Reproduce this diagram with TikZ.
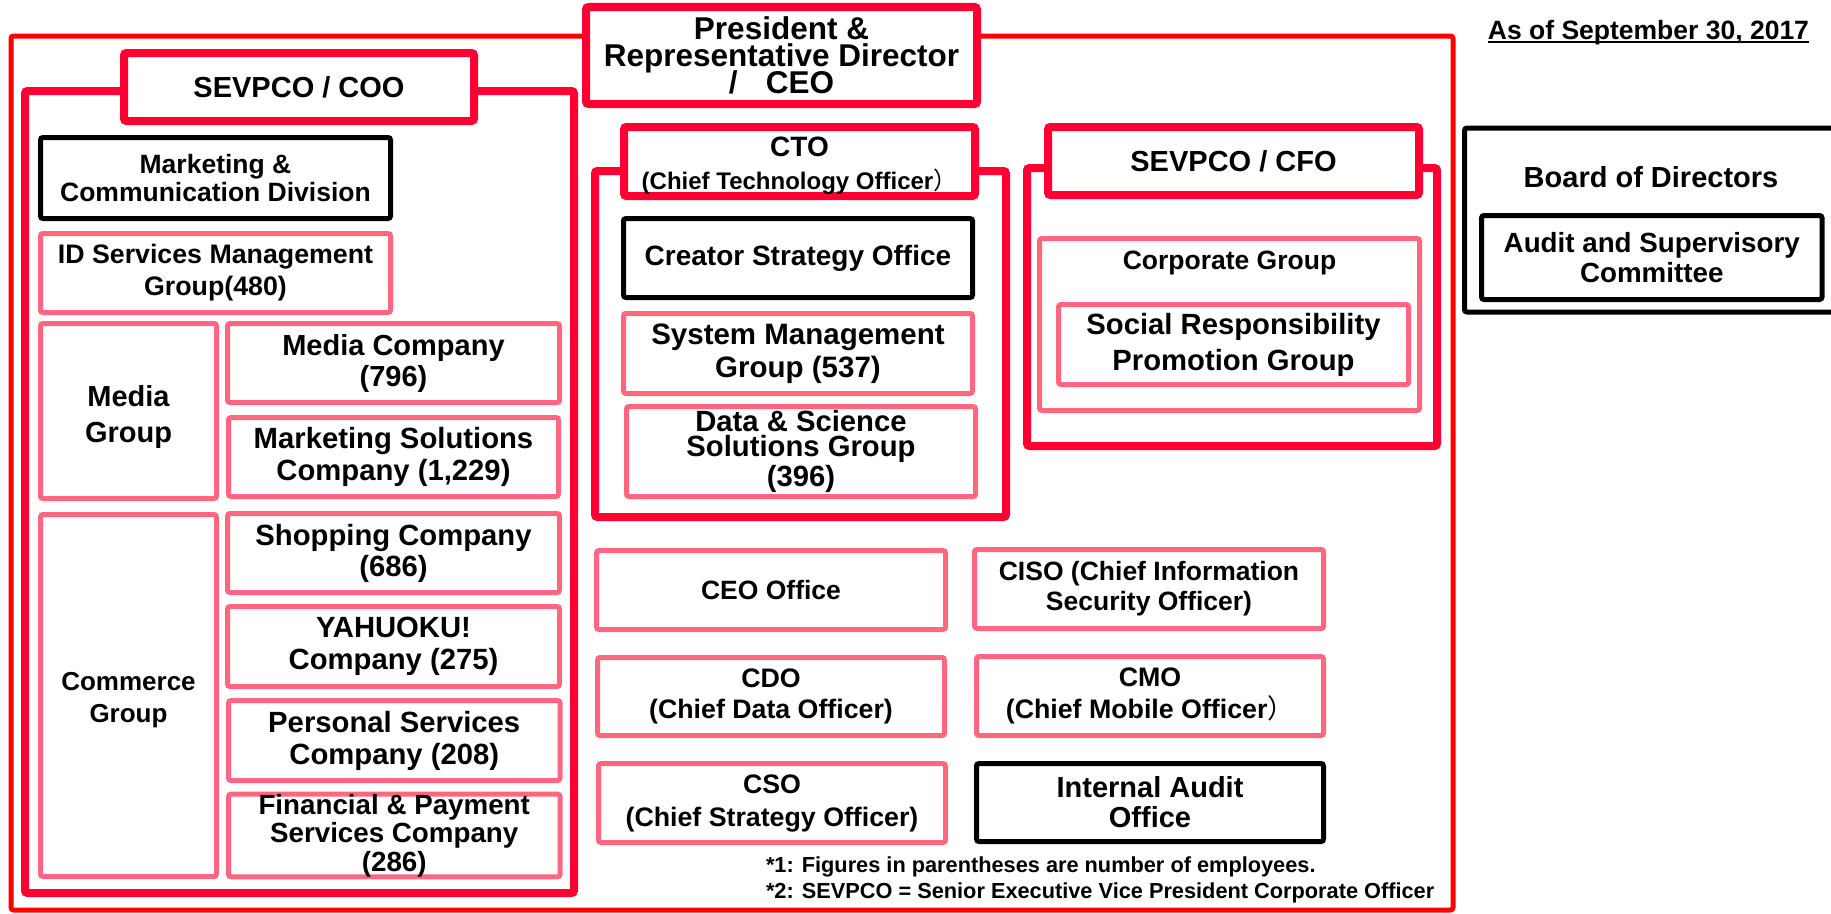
\documentclass[tikz,border=0pt]{standalone}
\usepackage{fontspec}
\setmainfont{Liberation Sans}
\newfontfamily\cjkfont{Noto Sans CJK JP}
\definecolor{frameRed}{RGB}{255,0,0}
\definecolor{unitRed}{RGB}{255,0,51}
\definecolor{groupPink}{RGB}{255,102,128}
\newcommand\fsz[2]{\fontsize{#1}{#2}\selectfont\bfseries}
\newcommand\wparen{{\cjkfont\mdseries ）}}

\begin{document}
\begin{tikzpicture}[x=0.4pt,y=-0.4pt,
  % a box given by the corners of its border line (x1,y1,x2,y2)
  span/.style n args={4}{minimum width={(#3-#1)*0.4pt}, minimum height={(#4-#2)*0.4pt},
                         at={({(#1+#3)/2},{(#2+#4)/2})}},
  unit/.style={rectangle, inner sep=0pt, outer sep=0pt, align=center, fill=white, rounded corners=1pt},
  head/.style={unit, draw=unitRed, line width=3.2pt},
  grp/.style={unit, draw=groupPink, line width=2pt},
  blk/.style={unit, draw=black, line width=2pt},
  txt/.style={inner sep=0pt, outer sep=0pt, align=center},
]
\useasboundingbox (0,0) rectangle (1831,913);
\clip (0,0) rectangle (1831,913);

% company-wide frame and the top executive
\node[rectangle, draw=frameRed, line width=2pt, inner sep=0pt, rounded corners=1pt, span={11}{36}{1453}{910}] (company) {};
\node[head, span={586}{7}{977}{104}, font=\fsz{12.6}{11}] (ceo) {President \&\\Representative Director\\[-2pt]/\hspace{0.9em}CEO};

% SEVPCO / COO organisation
\node[head, span={25}{91}{574}{893}] (coo) {};
\node[head, span={124}{53}{474}{121}, font=\fsz{11.6}{14}] (coolabel) {SEVPCO / COO};
\node[blk, span={40.5}{137.5}{390.5}{218.5}, font=\fsz{10.6}{8.6}] (mcd) {Marketing \&\\Communication Division};
\node[grp, span={40.5}{233.5}{390.5}{312.5}, font=\fsz{10.7}{12.8}] (ids) {ID Services Management\\Group(480)};
\node[grp, span={40.5}{323.5}{216.5}{498.5}, font=\fsz{11.6}{14.4}] (mediagrp) {};
\node[txt, font=\fsz{11.6}{14.4}] (mediagrpname) at ([yshift=-2.2pt]mediagrp.center) {Media\\Group};
\node[grp, span={227.5}{323.5}{559.5}{402.5}, font=\fsz{11.6}{12.4}] (mediaco) {Media Company\\(796)};
\node[grp, span={228.5}{417.5}{558.5}{496.5}, font=\fsz{11.7}{12.8}] (mktsol) {Marketing Solutions\\Company (1,229)};
\node[grp, span={40.5}{514.5}{216.5}{876.5}] (commgrp) {};
\node[txt, font=\fsz{10.4}{12.8}] (commgrpname) at ([yshift=-1.8pt]commgrp.center) {Commerce\\Group};
\node[grp, span={227.5}{513.5}{559.5}{592.5}, font=\fsz{11.7}{12.4}] (shop) {Shopping Company\\(686)};
\node[grp, span={227.5}{606.5}{559.5}{686.5}, font=\fsz{11.7}{12.8}] (yahuoku) {YAHUOKU!\\Company (275)};
\node[grp, span={228.5}{700.5}{560}{780.5}, font=\fsz{11.7}{12.8}] (personal) {Personal Services\\Company (208)};
\node[grp, span={228.5}{795.5}{560}{875.5}, font=\fsz{11.1}{9.8}] (finance) {Financial \& Payment\\Services Company\\(286)};

% CTO organisation
\node[head, span={595}{171}{1006}{517}] (cto) {};
\node[head, span={624}{127}{975}{196}] (ctolabel) {};
\node[txt, font=\fsz{11.2}{13}] (ctoname) at (799.5,147) {CTO};
\node[txt, font=\fsz{9.6}{11}] (ctofull) at (799.5,182) {(Chief Technology Officer\wparen};
\node[blk, span={623.5}{218.5}{972.5}{297.5}, font=\fsz{11.2}{13}] (creator) {Creator Strategy Office};
\node[grp, span={623.5}{313.5}{972.5}{393.5}, font=\fsz{11.8}{13.2}] (sysmgmt) {System Management\\Group (537)};
\node[grp, span={626.5}{406.5}{975.5}{496.5}, font=\fsz{11.7}{9.8}] (datasci) {Data \& Science\\Solutions Group\\(396)};

% SEVPCO / CFO organisation
\node[head, span={1027}{168}{1437}{446}] (cfo) {};
\node[head, span={1048}{127}{1419}{195}, font=\fsz{11.6}{14}] (cfolabel) {SEVPCO / CFO};
\node[grp, span={1039.5}{238.5}{1419.5}{410.5}] (corp) {};
\node[txt, font=\fsz{10.6}{12}] (corpname) at (1229.5,263) {Corporate Group};
\node[grp, span={1058.5}{304.5}{1408.5}{384.5}, font=\fsz{11.7}{14.4}] (social) {Social Responsibility\\Promotion Group};

% offices reporting to the CEO
\node[grp, span={596.5}{550.5}{945.5}{629.5}, font=\fsz{10.6}{12}] (ceooffice) {CEO Office};
\node[grp, span={974.5}{549.5}{1323.5}{628.5}, font=\fsz{10.6}{12}] (ciso) {CISO (Chief Information\\Security Officer)};
\node[grp, span={597.5}{657.5}{944.5}{735.5}, font=\fsz{10.7}{12.6}] (cdo) {CDO\\(Chief Data Officer)};
\node[grp, span={976.5}{656.5}{1323.5}{735.5}, font=\fsz{10.7}{12.6}] (cmo) {CMO\\(Chief Mobile Officer\wparen};
\node[grp, span={598.5}{763.5}{945.5}{842.5}, font=\fsz{10.7}{13.2}] (cso) {CSO\\(Chief Strategy Officer)};
\node[blk, span={976.5}{763.5}{1323.5}{841.5}, font=\fsz{11.6}{12}] (internalaudit) {Internal Audit\\Office};

% board of directors
\node[blk, span={1464.5}{128}{1840}{312}] (board) {};
\node[txt, font=\fsz{11.6}{13}] (boardname) at (1651,177) {Board of Directors};
\node[blk, span={1481.5}{215.5}{1822}{299.5}, font=\fsz{11.1}{12}] (audit) {Audit and Supervisory\\Committee};

% date (underlined just below its baseline) and notes
\node[txt, anchor=east, font=\fsz{10.6}{12}] (asof) at (1809,33) {As of September 30, 2017};
\draw[line width=0.8pt] ([yshift=-0.9pt]asof.base west) -- ([yshift=-0.9pt]asof.base east);
\node[txt, anchor=west, font=\fsz{8.7}{10}] (note1) at (766,867) {*1: Figures in parentheses are number of employees.};
\node[txt, anchor=west, font=\fsz{8.7}{10}] (note2) at (766,893) {*2: SEVPCO = Senior Executive Vice President Corporate Officer};
\end{tikzpicture}
\end{document}
